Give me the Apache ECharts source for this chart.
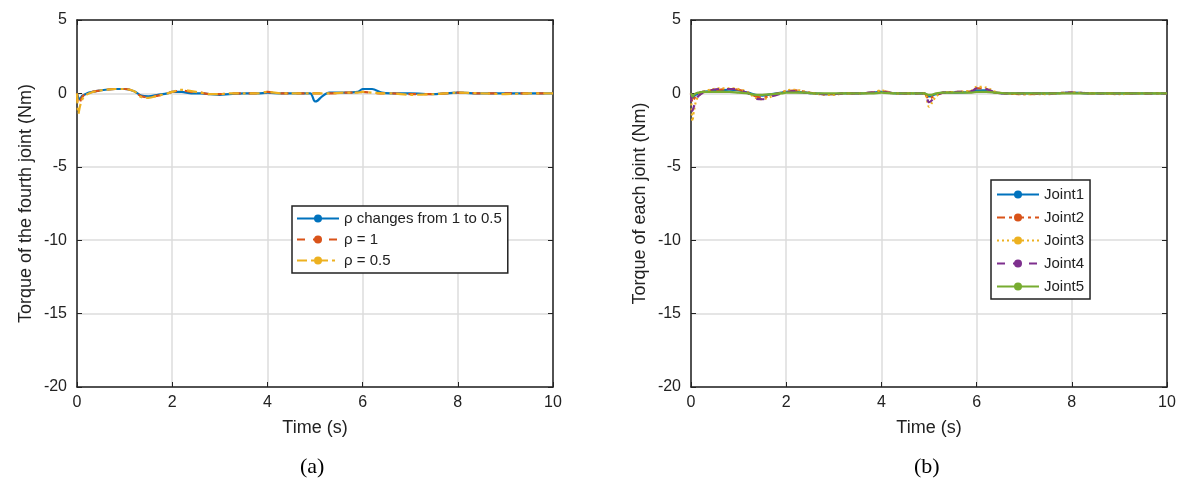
<!DOCTYPE html>
<html><head><meta charset="utf-8">
<script src="https://cdn.jsdelivr.net/npm/echarts@6/dist/echarts.min.js"></script>
<style>html,body{margin:0;padding:0;background:#fff}#c{width:1190px;height:503px}</style>
</head><body><div id="c"></div>
<script>
const t = [0,0.03,0.06,0.1,0.15,0.25,0.4,0.6,0.8,1.0,1.2,1.35,1.5,1.7,1.9,2.0,2.2,2.4,2.6,2.8,3.0,3.2,3.5,3.8,4.0,4.3,4.6,4.9,5.0,5.05,5.15,5.3,5.6,5.9,6.0,6.2,6.4,6.6,7.0,7.5,8.0,8.5,9.0,9.5,10];
// (a) fourth joint
const aVar  = [0,-0.3,-0.4,-0.2,-0.1,0.05,0.15,0.25,0.3,0.3,0.15,-0.15,-0.2,-0.1,0.0,0.1,0.1,0.0,0.0,-0.05,-0.1,-0.05,0.0,0.0,0.05,0.0,0.0,0.0,-0.55,-0.5,-0.2,0.05,0.05,0.1,0.3,0.3,0.05,0.0,0.0,-0.05,0.05,0.0,0.0,0.0,0.0];
const aOne  = [0,-0.8,-0.6,-0.3,-0.1,0.05,0.15,0.25,0.3,0.3,0.15,-0.2,-0.25,-0.15,0.0,0.1,0.2,0.1,0.05,-0.05,-0.05,0.0,0.0,0.0,0.1,0.0,0.0,0.0,0.0,0.0,0.0,0.0,0.05,0.05,0.1,0.05,0.0,0.0,-0.05,-0.05,0.05,0.0,0.0,0.0,0.0];
const aHalf = [0,-1.4,-0.9,-0.5,-0.2,0.0,0.15,0.25,0.3,0.3,0.15,-0.25,-0.3,-0.15,0.0,0.1,0.25,0.15,0.05,-0.05,-0.05,0.0,0.0,0.0,0.1,0.0,0.0,0.0,0.0,0.0,0.0,0.0,0.05,0.05,0.1,0.05,0.0,0.0,-0.1,-0.05,0.05,0.0,-0.05,0.0,0.0];
// (b) each joint
const j1 = [0,-0.3,-0.2,-0.1,0.0,0.1,0.15,0.2,0.25,0.2,0.05,-0.1,-0.15,-0.05,0.05,0.1,0.1,0.05,0.0,-0.05,-0.05,0.0,0.0,0.05,0.1,0.0,0.0,0.0,-0.2,-0.15,-0.05,0.05,0.05,0.1,0.2,0.2,0.05,0.0,0.0,0.0,0.05,0.0,0.0,0.0,0.0];
const j2 = [0,-0.6,-0.4,-0.2,0.0,0.1,0.2,0.25,0.3,0.25,0.05,-0.2,-0.3,-0.1,0.05,0.15,0.2,0.1,0.0,-0.05,-0.05,0.0,0.0,0.05,0.15,0.0,0.0,0.0,-0.4,-0.3,-0.1,0.05,0.1,0.15,0.35,0.3,0.05,0.0,-0.05,0.0,0.05,0.0,0.0,0.0,0.0];
const j3 = [0,-1.9,-1.2,-0.6,-0.2,0.05,0.25,0.35,0.35,0.3,0.05,-0.3,-0.4,-0.2,0.05,0.2,0.25,0.1,0.0,-0.1,-0.1,0.0,0.0,0.05,0.2,0.0,0.0,0.0,-0.9,-0.7,-0.2,0.05,0.1,0.2,0.45,0.4,0.1,0.0,-0.05,-0.05,0.05,0.0,-0.05,0.0,0.0];
const j4 = [0,-1.2,-0.9,-0.5,-0.2,0.05,0.2,0.3,0.3,0.25,0.0,-0.35,-0.4,-0.2,0.0,0.1,0.15,0.05,0.0,-0.05,-0.05,0.0,0.0,0.05,0.1,0.0,0.0,0.0,-0.6,-0.5,-0.15,0.05,0.1,0.15,0.35,0.3,0.05,0.0,0.0,0.0,0.05,0.0,0.0,0.0,0.0];
const j5 = [0,-0.2,-0.1,0.0,0.05,0.1,0.1,0.1,0.1,0.05,0.0,-0.1,-0.1,-0.05,0.0,0.05,0.05,0.05,0.0,0.0,0.0,0.0,0.0,0.0,0.05,0.0,0.0,0.0,-0.1,-0.1,0.0,0.05,0.05,0.05,0.1,0.1,0.05,0.0,0.0,0.0,0.0,0.0,0.0,0.0,0.0];
const yTicks = [5,0,-5,-10,-15,-20];
const xTicks = [0,2,4,6,8,10];

const F = 'Liberation Sans, Arial, sans-serif';
const z = a => t.map((x,i)=>[x,a[i]]);
function xa(g){return {type:'value',gridIndex:g,min:0,max:10,interval:2,name:'Time (s)',nameLocation:'middle',nameGap:32,
  nameTextStyle:{fontFamily:F,fontSize:18,color:'#222'},axisLine:{onZero:false,lineStyle:{color:'#222',width:1.5}},
  axisTick:{inside:true,length:5,lineStyle:{color:'#222'}},axisLabel:{fontFamily:F,fontSize:16,color:'#222',margin:8},
  splitLine:{show:true,lineStyle:{color:'#ddd',width:1.5}}};}
function xt(g){return {type:'value',gridIndex:g,min:0,max:10,interval:2,position:'top',axisLine:{show:true,onZero:false,lineStyle:{color:'#222',width:1.5}},axisTick:{inside:true,length:5,lineStyle:{color:'#222'}},axisLabel:{show:false},splitLine:{show:false}};}
function ya(g,name){return {type:'value',gridIndex:g,min:-20,max:5,interval:5,name:name,nameLocation:'middle',nameGap:42,
  nameTextStyle:{fontFamily:F,fontSize:18,color:'#222'},axisLine:{show:true,onZero:false,lineStyle:{color:'#222',width:1.5}},
  axisTick:{inside:true,length:5,lineStyle:{color:'#222'}},axisLabel:{fontFamily:F,fontSize:16,color:'#222',margin:10},
  splitLine:{show:true,lineStyle:{color:'#ddd',width:1.5}}};}
function yr(g){return {type:'value',gridIndex:g,min:-20,max:5,interval:5,position:'right',axisLine:{show:true,onZero:false,lineStyle:{color:'#222',width:1.5}},axisTick:{inside:true,length:5,lineStyle:{color:'#222'}},axisLabel:{show:false},splitLine:{show:false}};}
function s(name,data,xi,yi,color,type,w){return {name,type:'line',xAxisIndex:xi,yAxisIndex:yi,data:z(data),symbol:'none',
  lineStyle:{color,width:w||2.2,type},itemStyle:{color},smooth:0.3};}

const opt = {
  animation:false,
  grid:[{left:77,top:20,width:476,height:367},{left:691,top:20,width:476,height:367}],
  xAxis:[xa(0),xa(1),xt(0),xt(1)],
  yAxis:[ya(0,'Torque of the fourth joint (Nm)'),ya(1,'Torque of each joint (Nm)'),yr(0),yr(1)],
  legend:[
    {data:['ρ changes from 1 to 0.5','ρ = 1','ρ = 0.5'],orient:'vertical',left:292,top:206,
     itemWidth:42,itemHeight:10,itemGap:6,padding:[5,6,5,4],backgroundColor:'#fff',borderColor:'#222',borderWidth:1.5,
     textStyle:{fontFamily:F,fontSize:15,color:'#222'}},
    {data:['Joint1','Joint2','Joint3','Joint4','Joint5'],orient:'vertical',left:991,top:180,
     itemWidth:42,itemHeight:10,itemGap:8,padding:[7,6,5,5],backgroundColor:'#fff',borderColor:'#222',borderWidth:1.5,
     textStyle:{fontFamily:F,fontSize:15,color:'#222'}}
  ],
  graphic:[
    {type:'text',left:300,top:456,style:{text:'(a)',font:'22px Liberation Serif',fill:'#000'}},
    {type:'text',left:914,top:456,style:{text:'(b)',font:'22px Liberation Serif',fill:'#000'}}
  ],
  series:[
    s('ρ changes from 1 to 0.5',aVar,0,0,'#0072BD','solid'),
    s('ρ = 1',aOne,0,0,'#D95319',[8,8]),
    s('ρ = 0.5',aHalf,0,0,'#EDB120',[10,4,3,4]),
    s('Joint1',j1,1,1,'#0072BD','solid'),
    s('Joint2',j2,1,1,'#D95319',[8,4,3,4]),
    s('Joint3',j3,1,1,'#EDB120',[2,3]),
    s('Joint4',j4,1,1,'#7E2F8E',[8,8]),
    s('Joint5',j5,1,1,'#77AC30','solid')
  ]
};
echarts.init(document.getElementById('c')).setOption(opt);
</script></body></html>
